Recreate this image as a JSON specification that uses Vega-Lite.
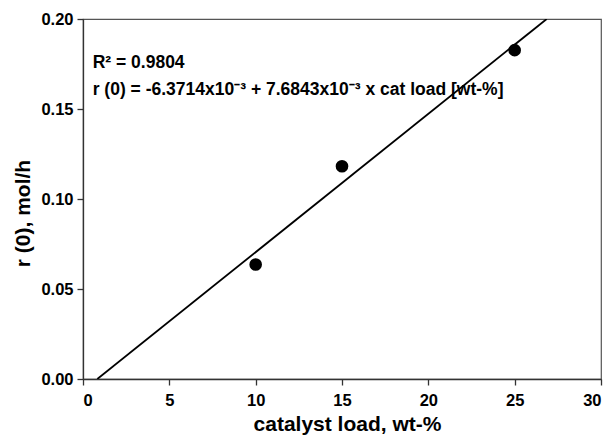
{
  "$schema": "https://vega.github.io/schema/vega-lite/v6.json",
  "width": 518,
  "height": 360,
  "autosize": {"type": "none"},
  "padding": {"left": 83, "top": 19, "right": 12, "bottom": 58},
  "background": "white",
  "config": {
    "view": {"stroke": "#555", "strokeWidth": 1.2},
    "font": "Liberation Sans",
    "axis": {
      "grid": false,
      "domainColor": "#333",
      "domainWidth": 1.3,
      "tickColor": "#333",
      "tickWidth": 1.3,
      "tickSize": 6,
      "labelFont": "Liberation Sans",
      "labelFontSize": 16.5,
      "labelFontWeight": "bold",
      "labelColor": "#000",
      "titleFont": "Liberation Sans",
      "titleFontSize": 21,
      "titleFontWeight": "bold",
      "titleColor": "#000"
    }
  },
  "datasets": {
    "points": [
      {"load": 10, "rate": 0.0636},
      {"load": 15, "rate": 0.1182},
      {"load": 25, "rate": 0.1827}
    ],
    "fit": [
      {"load": 0.829, "rate": 0.0},
      {"load": 26.855, "rate": 0.2}
    ],
    "notes": [
      {"load": 0.56, "rate": 0.1729, "label": "R² = 0.9804"},
      {"load": 0.56, "rate": 0.158, "label": "r (0) = -6.3714x10⁻³ + 7.6843x10⁻³ x cat load [wt-%]"}
    ]
  },
  "layer": [
    {
      "data": {"name": "fit"},
      "mark": {"type": "line", "color": "#000", "strokeWidth": 1.8, "clip": true},
      "encoding": {
        "x": {"field": "load", "type": "quantitative", "scale": {"domain": [0, 30]},
              "axis": {"values": [0, 5, 10, 15, 20, 25, 30], "title": "catalyst load, wt-%", "titlePadding": 5, "labelPadding": 7, "titleX": 264}},
        "y": {"field": "rate", "type": "quantitative", "scale": {"domain": [0, 0.2]},
              "axis": {"values": [0, 0.05, 0.1, 0.15, 0.2], "format": ".2f", "title": "r (0), mol/h", "titlePadding": 7, "labelPadding": 4, "titleY": 194}}
      }
    },
    {
      "data": {"name": "points"},
      "mark": {"type": "circle", "color": "#000", "opacity": 1, "size": 160},
      "encoding": {
        "x": {"field": "load", "type": "quantitative"},
        "y": {"field": "rate", "type": "quantitative"}
      }
    },
    {
      "data": {"name": "notes"},
      "mark": {"type": "text", "align": "left", "baseline": "alphabetic", "fontSize": 17.5, "fontWeight": "bold", "font": "Liberation Sans", "color": "#000"},
      "encoding": {
        "x": {"field": "load", "type": "quantitative"},
        "y": {"field": "rate", "type": "quantitative"},
        "text": {"field": "label"}
      }
    }
  ]
}
